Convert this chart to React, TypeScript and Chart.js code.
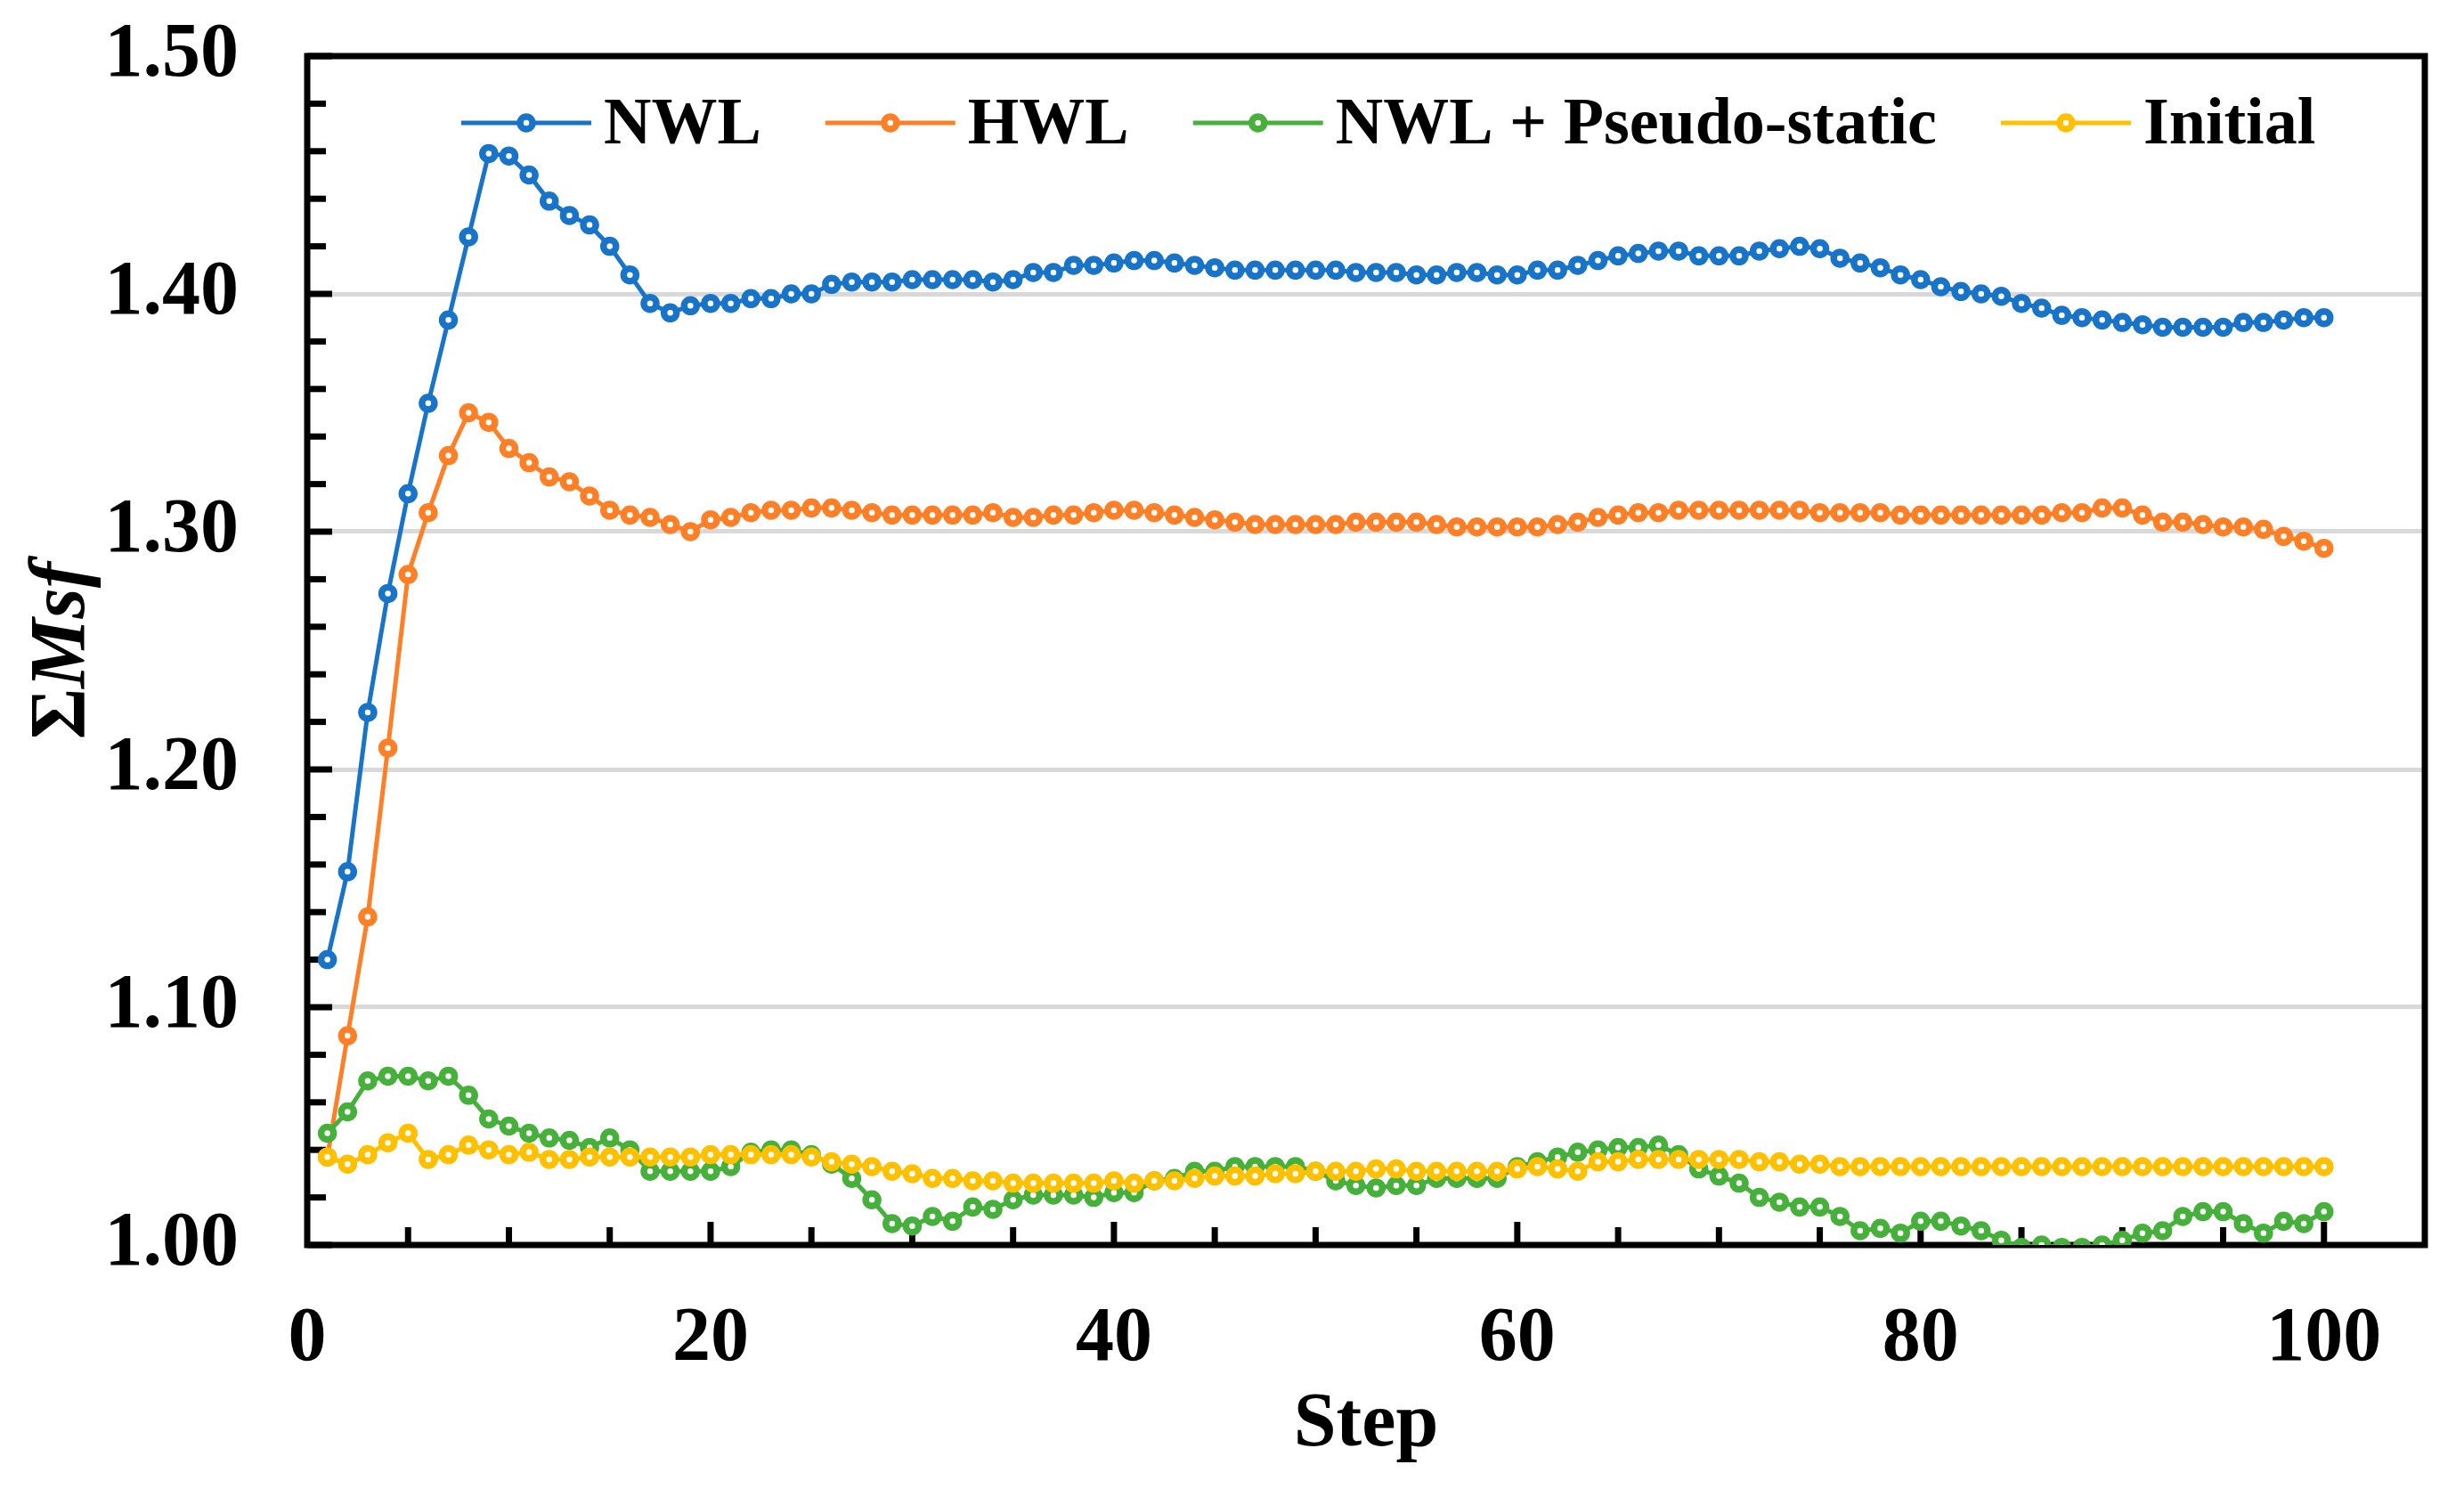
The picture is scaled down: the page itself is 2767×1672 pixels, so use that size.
import React, { useEffect, useRef } from "react";
import { Chart, registerables } from "chart.js";

Chart.register(...registerables);

const STEPS: number[] = Array.from({ length: 100 }, (_, i) => i + 1);

const NWL: number[] = [
  1.120, 1.157, 1.224, 1.274, 1.316, 1.354, 1.389, 1.424, 1.459, 1.458,
  1.450, 1.439, 1.433, 1.429, 1.420, 1.408, 1.396, 1.392, 1.395, 1.396,
  1.396, 1.398, 1.398, 1.400, 1.400, 1.404, 1.405, 1.405, 1.405, 1.406,
  1.406, 1.406, 1.406, 1.405, 1.406, 1.409, 1.409, 1.412, 1.412, 1.413,
  1.414, 1.414, 1.413, 1.412, 1.411, 1.410, 1.410, 1.410, 1.410, 1.410,
  1.410, 1.409, 1.409, 1.409, 1.408, 1.408, 1.409, 1.409, 1.408, 1.408,
  1.410, 1.410, 1.412, 1.414, 1.416, 1.417, 1.418, 1.418, 1.416, 1.416,
  1.416, 1.418, 1.419, 1.420, 1.419, 1.415, 1.413, 1.411, 1.408, 1.406,
  1.403, 1.401, 1.400, 1.399, 1.396, 1.394, 1.391, 1.390, 1.389, 1.388,
  1.387, 1.386, 1.386, 1.386, 1.386, 1.388, 1.388, 1.389, 1.390, 1.390,
];

const HWL: number[] = [
  1.037, 1.088, 1.138, 1.209, 1.282, 1.308, 1.332, 1.350, 1.346, 1.335,
  1.329, 1.323, 1.321, 1.315, 1.309, 1.307, 1.306, 1.303, 1.300, 1.305,
  1.306, 1.308, 1.309, 1.309, 1.310, 1.310, 1.309, 1.308, 1.307, 1.307,
  1.307, 1.307, 1.307, 1.308, 1.306, 1.306, 1.307, 1.307, 1.308, 1.309,
  1.309, 1.308, 1.307, 1.306, 1.305, 1.304, 1.303, 1.303, 1.303, 1.303,
  1.303, 1.304, 1.304, 1.304, 1.304, 1.303, 1.302, 1.302, 1.302, 1.302,
  1.302, 1.303, 1.304, 1.306, 1.307, 1.308, 1.308, 1.309, 1.309, 1.309,
  1.309, 1.309, 1.309, 1.309, 1.308, 1.308, 1.308, 1.308, 1.307, 1.307,
  1.307, 1.307, 1.307, 1.307, 1.307, 1.307, 1.308, 1.308, 1.310, 1.310,
  1.307, 1.304, 1.304, 1.303, 1.302, 1.302, 1.301, 1.298, 1.296, 1.293,
];

const NWL_PSEUDO: number[] = [
  1.047, 1.056, 1.069, 1.071, 1.071, 1.069, 1.071, 1.063, 1.053, 1.050,
  1.047, 1.045, 1.044, 1.041, 1.045, 1.040, 1.031, 1.031, 1.031, 1.031,
  1.033, 1.039, 1.040, 1.040, 1.038, 1.034, 1.028, 1.019, 1.009, 1.008,
  1.012, 1.010, 1.016, 1.015, 1.019, 1.021, 1.021, 1.021, 1.020, 1.022,
  1.022, 1.027, 1.028, 1.031, 1.031, 1.033, 1.033, 1.033, 1.033, 1.031,
  1.027, 1.025, 1.024, 1.025, 1.025, 1.028, 1.028, 1.028, 1.028, 1.033,
  1.035, 1.037, 1.039, 1.040, 1.041, 1.041, 1.042, 1.038, 1.032, 1.029,
  1.026, 1.020, 1.018, 1.016, 1.016, 1.012, 1.006, 1.007, 1.005, 1.010,
  1.010, 1.008, 1.006, 1.002, 0.999, 1.000, 0.999, 0.999, 1.000, 1.002,
  1.005, 1.006, 1.012, 1.014, 1.014, 1.009, 1.005, 1.010, 1.009, 1.014,
];

const INITIAL: number[] = [
  1.037, 1.034, 1.038, 1.043, 1.047, 1.036, 1.038, 1.042, 1.040, 1.038,
  1.039, 1.036, 1.036, 1.037, 1.037, 1.037, 1.037, 1.037, 1.037, 1.038,
  1.038, 1.038, 1.038, 1.038, 1.037, 1.035, 1.034, 1.033, 1.031, 1.030,
  1.028, 1.028, 1.027, 1.027, 1.026, 1.026, 1.026, 1.026, 1.026, 1.027,
  1.026, 1.027, 1.027, 1.028, 1.029, 1.029, 1.029, 1.030, 1.030, 1.031,
  1.031, 1.031, 1.032, 1.032, 1.031, 1.031, 1.031, 1.031, 1.031, 1.032,
  1.033, 1.032, 1.031, 1.035, 1.035, 1.036, 1.036, 1.036, 1.036, 1.036,
  1.036, 1.035, 1.035, 1.034, 1.034, 1.033, 1.033, 1.033, 1.033, 1.033,
  1.033, 1.033, 1.033, 1.033, 1.033, 1.033, 1.033, 1.033, 1.033, 1.033,
  1.033, 1.033, 1.033, 1.033, 1.033, 1.033, 1.033, 1.033, 1.033, 1.033,
];

const SERIES_NAMES: string[] = ["NWL", "HWL", "NWL + Pseudo-static", "Initial"];
const SERIES_COLORS: string[] = ["#1874c9", "#ff7f27", "#45b03a", "#ffc000"];
const SERIES_VALUES: number[][] = [NWL, HWL, NWL_PSEUDO, INITIAL];
const X_TICK_LABELS: number[] = [0, 20, 40, 60, 80, 100];
const Y_TICK_LABELS: number[] = [1.0, 1.1, 1.2, 1.3, 1.4, 1.5];

const W = 2767;
const H = 1672;
const FONT = '"Liberation Serif", "Times New Roman", serif';

const framePlugin = {
  id: "frameAndLegend",
  beforeDatasetsDraw(chart: any) {
    const { ctx, chartArea } = chart;
    const { left, top, right, bottom } = chartArea;
    const xs = chart.scales.x;
    const ys = chart.scales.y;
    ctx.save();
    ctx.strokeStyle = "#000";
    ctx.lineWidth = 7;
    ctx.lineCap = "butt";
    for (let i = 0; i <= 25; i++) {
      const v = 1 + i * 0.02;
      const y = ys.getPixelForValue(v);
      const len = i % 5 === 0 ? 28 : 21;
      ctx.beginPath();
      ctx.moveTo(left, y);
      ctx.lineTo(left + len, y);
      ctx.stroke();
    }
    for (let s = 5; s <= 100; s += 5) {
      const x = xs.getPixelForValue(s);
      const len = s % 20 === 0 ? 26 : 20;
      ctx.beginPath();
      ctx.moveTo(x, bottom);
      ctx.lineTo(x, bottom - len);
      ctx.stroke();
    }
    ctx.lineJoin = "miter";
    ctx.strokeRect(left, top, right - left, bottom - top);
    ctx.restore();
  },
  afterDraw(chart: any) {
    const { ctx } = chart;
    ctx.save();
    ctx.font = `bold 74px ${FONT}`;
    ctx.textBaseline = "alphabetic";
    ctx.textAlign = "left";
    let x = 518;
    const yMid = 138;
    chart.data.datasets.forEach((ds: any) => {
      ctx.strokeStyle = ds.borderColor;
      ctx.lineWidth = 5;
      ctx.beginPath();
      ctx.moveTo(x, yMid);
      ctx.lineTo(x + 146, yMid);
      ctx.stroke();
      ctx.beginPath();
      ctx.arc(x + 73, yMid, 7, 0, Math.PI * 2);
      ctx.fillStyle = "#fff";
      ctx.fill();
      ctx.lineWidth = 7.5;
      ctx.stroke();
      ctx.fillStyle = "#000";
      const tx = x + 146 + 14;
      ctx.fillText(ds.label, tx, 161);
      x = tx + ctx.measureText(ds.label).width + 72;
    });
    const p1 = "Σ";
    const p2 = "Msf";
    ctx.font = `bold 88px ${FONT}`;
    const w1 = ctx.measureText(p1).width;
    ctx.font = `italic bold 88px ${FONT}`;
    const w2 = ctx.measureText(p2).width;
    const cy = (chart.chartArea.top + chart.chartArea.bottom) / 2;
    ctx.translate(94, cy);
    ctx.rotate(-Math.PI / 2);
    const start = -(w1 + w2) / 2;
    ctx.fillStyle = "#000";
    ctx.font = `bold 88px ${FONT}`;
    ctx.fillText(p1, start, 0);
    ctx.font = `italic bold 88px ${FONT}`;
    ctx.fillText(p2, start + w1, 0);
    ctx.restore();
  },
};

export default function App() {
  const ref = useRef<HTMLCanvasElement | null>(null);

  useEffect(() => {
    if (!ref.current) return;
    const orders = [3, 2, 1, 0];
    const chart = new Chart(ref.current, {
      type: "line",
      data: {
        datasets: SERIES_VALUES.map((vals, i) => ({
          label: SERIES_NAMES[i],
          data: STEPS.map((s, j) => ({ x: s, y: vals[j] })),
          borderColor: SERIES_COLORS[i],
          backgroundColor: SERIES_COLORS[i],
          borderWidth: 5,
          pointRadius: 7,
          pointBorderWidth: 7.5,
          pointBackgroundColor: "#ffffff",
          pointBorderColor: SERIES_COLORS[i],
          tension: 0,
          order: orders[i],
        })),
      },
      options: {
        animation: false,
        responsive: false,
        devicePixelRatio: 1,
        layout: { padding: { top: 63, right: 44, left: 0, bottom: 0 } },
        plugins: {
          legend: { display: false },
          tooltip: { enabled: false },
        },
        scales: {
          x: {
            type: "linear",
            min: 0,
            max: 105,
            grid: { display: false, drawTicks: false },
            border: { display: false },
            afterFit: (s: any) => {
              s.height = 274;
              s.paddingLeft = 0;
              s.paddingRight = 0;
            },
            afterBuildTicks: (s: any) => {
              s.ticks = X_TICK_LABELS.map((v) => ({ value: v }));
            },
            ticks: {
              autoSkip: false,
              maxRotation: 0,
              padding: 55,
              color: "#000",
              font: { family: FONT, size: 86, weight: "bold" },
              callback: (v: any) => String(v),
            },
            title: {
              display: true,
              text: "Step",
              color: "#000",
              font: { family: FONT, size: 86, weight: "bold" },
              padding: { top: 0, bottom: 20 },
            },
          },
          y: {
            min: 1.0,
            max: 1.5,
            grid: {
              drawTicks: false,
              lineWidth: 5,
              color: (c: any) => {
                const v = c.tick ? c.tick.value : 0;
                return v <= 1.001 || v >= 1.499 ? "rgba(0,0,0,0)" : "#d9d9d9";
              },
            },
            border: { display: false },
            afterFit: (s: any) => {
              s.width = 345;
              s.paddingTop = 0;
              s.paddingBottom = 0;
            },
            afterBuildTicks: (s: any) => {
              s.ticks = Y_TICK_LABELS.map((v) => ({ value: v }));
            },
            ticks: {
              padding: 77,
              color: "#000",
              font: { family: FONT, size: 86, weight: "bold" },
              callback: (v: any) => Number(v).toFixed(2),
            },
          },
        },
      },
      plugins: [framePlugin],
    });
    return () => chart.destroy();
  }, []);

  return (
    <div style={{ position: "absolute", left: 0, top: 0, width: W, height: H, background: "#fff" }}>
      <canvas ref={ref} width={W} height={H} style={{ width: W, height: H, display: "block" }} />
    </div>
  );
}
